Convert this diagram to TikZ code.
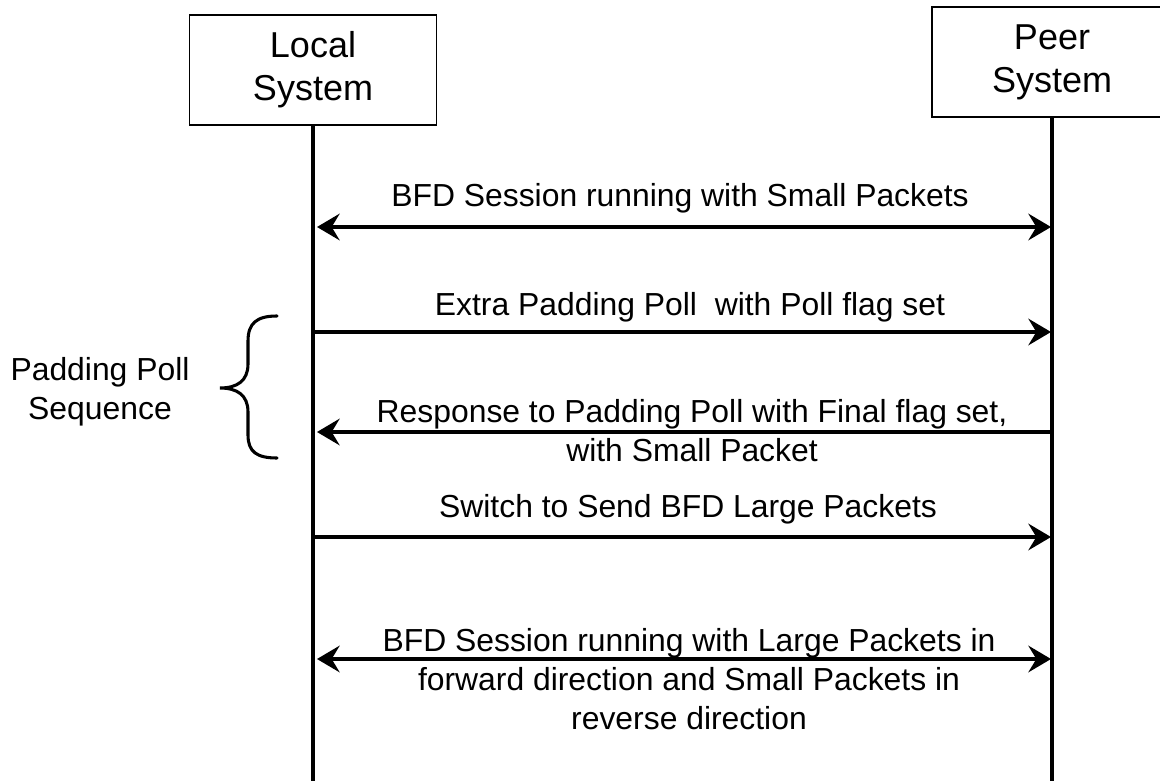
\documentclass[tikz,border=0pt]{standalone}
\usepackage{fontspec}
\setmainfont{Liberation Sans}
\usetikzlibrary{arrows.meta}
\tikzset{
  sysbox/.style={draw, line width=1.1pt, minimum width=185pt, minimum height=82.5pt,
    align=center, font=\fontsize{27}{32.25}\selectfont, inner sep=0pt},
  lifeline/.style={line width=2.3pt},
  tipshape/.tip={Stealth[length=17pt, width=20pt, inset=6pt]},
  msg/.style={line width=2.3pt, -tipshape},
  bimsg/.style={line width=2.3pt, tipshape-tipshape},
  lbl/.style={font=\fontsize{23.9}{29}\selectfont, align=center, anchor=base, inner sep=0pt},
  bracestyle/.style={line width=2.3pt, line cap=round}
}
\begin{document}
\begin{tikzpicture}[x=0.75pt, y=-0.75pt]
\useasboundingbox (0,0) rectangle (1160,781);
% system boxes
\node[sysbox] (local) at (313,70) {Local\\System};
\node[sysbox, minimum width=180pt] (peer) at (1052,62) {Peer\\System};
% lifelines
\coordinate (lb) at (313,781);
\coordinate (pb) at (1051,781);
\draw[lifeline] (local.south) -- (local.south |- lb);
\draw[lifeline] (peer.south) -- (peer.south |- pb);
% message end points
\coordinate (L1) at (317,227);  \coordinate (P1) at (1051,227);
\coordinate (L2) at (313,332);  \coordinate (P2) at (1051,332);
\coordinate (L3) at (317,432);  \coordinate (P3) at (1051,432);
\coordinate (L4) at (313,537);  \coordinate (P4) at (1051,537);
\coordinate (L5) at (317,659);  \coordinate (P5) at (1051,659);
% messages (multi-line labels: base anchor is the last line's baseline)
\draw[bimsg] (L1) -- (P1);
\node[lbl] (t1) at (680,206) {BFD Session running with Small Packets};
\draw[msg] (L2) -- (P2);
\node[lbl] (t2) at (690,315) {Extra Padding Poll~ with Poll flag set};
\draw[msg] (P3) -- (L3);
\node[lbl] (t3) at (692,461) {Response to Padding Poll with Final flag set,\\with Small Packet};
\draw[msg] (L4) -- (P4);
\node[lbl] (t4) at (688,517) {Switch to Send BFD Large Packets};
\draw[bimsg] (L5) -- (P5);
\node[lbl] (t5) at (689,729) {BFD Session running with Large Packets in\\forward direction and Small Packets in\\reverse direction};
% brace
\coordinate (bt) at (277,316);
\coordinate (bb) at (277,458);
\coordinate (btip) at (220,388);
\draw[bracestyle] (bt) .. controls (257,316) and (248,323) .. (248,341)
  -- (248,364) .. controls (248,381) and (237,388) .. (btip)
  .. controls (237,388) and (248,395) .. (248,412)
  -- (248,435) .. controls (248,452) and (257,458) .. (bb);
\node[lbl] (pps) at (100,419) {Padding Poll\\Sequence};
\end{tikzpicture}
\end{document}
